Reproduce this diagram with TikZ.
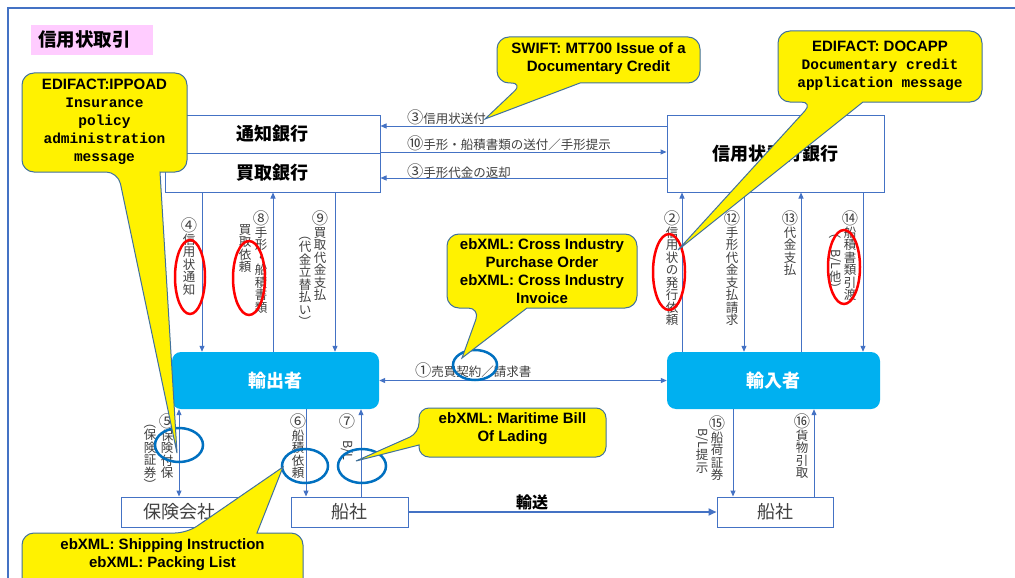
\documentclass[tikz,border=0pt]{standalone}
\usepackage{fontspec}
\usepackage{graphicx}
\usetikzlibrary{arrows.meta,calc}
\newfontfamily\jp{Noto Sans CJK JP}
\newfontfamily\lsans{Liberation Sans}
\newfontfamily\lmono{Liberation Mono}
\definecolor{lineblue}{HTML}{4472C4}
\definecolor{cyanfill}{HTML}{00B0F0}
\definecolor{labgray}{HTML}{404040}
\definecolor{ellblue}{HTML}{0070C0}
\definecolor{calloutline}{HTML}{41719C}
\definecolor{pinkbg}{HTML}{FFCCFF}
\newcommand{\rotL}[1]{\rotatebox{-90}{#1}}
\newcommand{\vlp}{\rotatebox[origin=c]{-90}{（}}
\newcommand{\vrp}{\rotatebox[origin=c]{-90}{）}}
\newcommand{\cn}[1]{\scalebox{1.3}{#1}}
\newcommand{\vfontsel}{\jp\fontsize{12.5}{12.5}\selectfont\lineskiplimit=-6pt\lineskip=1pt}
\begin{document}
\begin{tikzpicture}[x=1pt,y=-1pt,
  ln/.style={draw=lineblue,line width=1pt},
  arr/.style={ln,-{Triangle[length=6pt,width=5pt]}},
  darr/.style={ln,{Triangle[length=6pt,width=5pt]}-{Triangle[length=6pt,width=5pt]}},
  wbox/.style={draw=lineblue,line width=1pt,fill=white,inner sep=0pt},
  bankfont/.style={font=\jp\bfseries\fontsize{18}{20}\selectfont},
  actor/.style={fill=cyanfill,rounded corners=9pt,text=white,inner sep=0pt,minimum height=57pt,font=\jp\bfseries\fontsize{18}{20}\selectfont},
  plainbox/.style={wbox,font=\jp\fontsize{18}{20}\selectfont,text=labgray,minimum height=30pt},
  vlab/.style={font=\vfontsel,text=labgray,align=center,anchor=north,inner sep=0pt},
  hlab/.style={font=\jp\fontsize{12.5}{14}\selectfont,text=labgray,anchor=west,inner sep=0pt},
  redell/.style={draw=red,line width=2.5pt},
  blueell/.style={draw=ellblue,line width=2.5pt},
  callout/.style={fill=yellow,draw=calloutline,line width=1pt},
  csans/.style={font=\lsans\bfseries\fontsize{15}{18}\selectfont,align=center,inner sep=0pt},
  cmono/.style={font=\lmono\bfseries\fontsize{14.5}{18}\selectfont,align=center,inner sep=0pt}
]
\useasboundingbox (0,0) rectangle (1015,578);
\clip (0,0) rectangle (1015,578);
\fill[white] (0,0) rectangle (1015,578);
% frame
\draw[lineblue,line width=1.5pt] (8,600) -- (8,8) -- (1030,8);
% title
\fill[pinkbg] (31,25) rectangle (153,55);
\node[font=\jp\bfseries\fontsize{18.5}{20}\selectfont,anchor=west,inner sep=0pt] (title) at (38,40) {信用状取引};

% boxes
\node[wbox,bankfont,minimum width=215pt,minimum height=38pt] (tsuchi) at (272.5,134) {通知銀行};
\node[wbox,bankfont,minimum width=215pt,minimum height=39pt] (kaitori) at (272.5,172.5) {買取銀行};
\node[wbox,bankfont,minimum width=217pt,minimum height=77pt] (hakko) at (775.5,153.5) {信用状発行銀行};
\node[actor,minimum width=207pt] (yushutsu) at (275.5,380.5) {輸出者};
\node[actor,minimum width=213pt] (yunyu) at (773.5,380.5) {輸入者};
\node[plainbox,minimum width=116pt] (hoken) at (179,512) {保険会社};
\node[plainbox,minimum width=117pt] (sensha1) at (349.5,512) {船社};
\node[plainbox,minimum width=116pt] (sensha2) at (775,512) {船社};

% horizontal arrows
\draw[arr] (hakko.west |- 0,126) -- (tsuchi.east |- 0,126);
\draw[arr] (kaitori.east |- 0,152) -- (hakko.west |- 0,152);
\draw[arr] (hakko.west |- 0,178) -- (kaitori.east |- 0,178);
\draw[darr] (yushutsu.east) -- (yunyu.west);
\draw[ln,line width=2pt,-{Triangle[length=8pt,width=7pt]}] (sensha1.east) -- (sensha2.west);

% vertical arrows
\draw[arr] (202,0 |- kaitori.south) -- (202,0 |- yushutsu.north);
\draw[arr] (273,0 |- yushutsu.north) -- (273,0 |- kaitori.south);
\draw[arr] (335,0 |- kaitori.south) -- (335,0 |- yushutsu.north);
\draw[arr] (682,0 |- yunyu.north) -- (682,0 |- hakko.south);
\draw[arr] (744,0 |- hakko.south) -- (744,0 |- yunyu.north);
\draw[arr] (801,0 |- yunyu.north) -- (801,0 |- hakko.south);
\draw[arr] (863,0 |- hakko.south) -- (863,0 |- yunyu.north);
\draw[darr] (179,0 |- yushutsu.south) -- (179,0 |- hoken.north);
\draw[arr] (306,0 |- yushutsu.south) -- (306,0 |- sensha1.north);
\draw[arr] (361,0 |- sensha1.north) -- (361,0 |- yushutsu.south);
\draw[arr] (733,0 |- yunyu.south) -- (733,0 |- sensha2.north);
\draw[arr] (814,0 |- sensha2.north) -- (814,0 |- yunyu.south);

% horizontal labels
\node[hlab] (h3a) at (407,117) {\cn{③}信用状送付};
\node[hlab] (h10) at (407,143) {\cn{⑩}手形・船積書類の送付／手形提示};
\node[hlab] (h3b) at (407,171) {\cn{③}手形代金の返却};
\node[hlab] (h1) at (415,370) {\cn{①}売買契約／請求書};
\node[font=\jp\bfseries\fontsize{16}{18}\selectfont,inner sep=0pt] (yuso) at (532,502) {輸送};

% vertical labels
\node[vlab] (l4) at (189,218) {\cn{④}\\信\\用\\状\\通\\知};
\node[vlab] (l8) at (261,211) {\cn{⑧}\\手\\形\\・\\船\\積\\書\\類};
\node[vlab] (l8b) at (245,224) {買\\取\\依\\頼};
\node[vlab] (l9) at (320,211) {\cn{⑨}\\買\\取\\代\\金\\支\\払};
\node[vlab] (l9b) at (305,228) {\vlp\\代\\金\\立\\替\\払\\い\\\vrp};
\node[vlab] (l2) at (672,211) {\cn{②}\\信\\用\\状\\の\\発\\行\\依\\頼};
\node[vlab] (l12) at (732,211) {\cn{⑫}\\手\\形\\代\\金\\支\\払\\請\\求};
\node[vlab] (l13) at (790,211) {\cn{⑬}\\代\\金\\支\\払};
\node[vlab] (l14) at (850,211) {\cn{⑭}\\船\\積\\書\\類\\引\\渡};
\node[vlab] (l14b) at (835,226) {\vlp\\\rotL{B/L}\\他\\\vrp};
\node[vlab] (l5) at (167,414) {\cn{⑤}\\保\\険\\付\\保};
\node[vlab] (l5b) at (150,416) {\vlp\\保\\険\\証\\券\\\vrp};
\node[vlab] (l6) at (298,414) {\cn{⑥}\\船\\積\\依\\頼};
\node[vlab] (l7) at (347,414) {\cn{⑦}\\\rotL{B/L}};
\node[vlab] (l15) at (717,416) {\cn{⑮}\\船\\荷\\証\\券};
\node[vlab] (l15b) at (702,428) {\rotL{B/L}\\提\\示};
\node[vlab] (l16) at (802,414) {\cn{⑯}\\貨\\物\\引\\取};

% ellipses
\draw[redell] (190,277) ellipse [x radius=15pt,y radius=37pt];
\draw[redell] (249,278) ellipse [x radius=16pt,y radius=37pt];
\draw[redell] (669,272) ellipse [x radius=16pt,y radius=38pt];
\draw[redell] (844,267) ellipse [x radius=16pt,y radius=37pt];
\draw[blueell] (475,365) ellipse [x radius=22pt,y radius=15pt];
\draw[blueell] (179,445) ellipse [x radius=24pt,y radius=17pt];
\draw[blueell] (305,466) ellipse [x radius=23pt,y radius=17pt];
\draw[blueell] (362,466) ellipse [x radius=24pt,y radius=17pt];

% callouts
\draw[callout] (160,172) [rounded corners=12pt] -- (187,172) -- (187,73) -- (22,73) -- (22,172) -- (118,172) [sharp corners] -- (177,453) -- cycle;
\node[cmono] (c1) at (104.5,122) {{\lsans\bfseries\fontsize{15}{18}\selectfont EDIFACT:IPPOAD}\\Insurance\\policy\\administration\\message};

\draw[callout] (580,83) [rounded corners=12pt] -- (700,83) -- (700,37) -- (497,37) -- (497,83) -- (523,83) [sharp corners] -- (485,119) -- cycle;
\node[csans] (c2) at (598.5,59) {SWIFT: MT700 Issue of a\\Documentary Credit};

\draw[callout] (863,102) [rounded corners=12pt] -- (982,102) -- (982,31) -- (778,31) -- (778,102) -- (813,102) [sharp corners] -- (678,250) -- cycle;
\node[cmono] (c3) at (880,66) {{\lsans\bfseries\fontsize{15}{18}\selectfont EDIFACT: DOCAPP}\\Documentary credit\\application message};

\draw[callout] (527,308) [rounded corners=12pt] -- (637,308) -- (637,234) -- (447,234) -- (447,308) -- (480,308) [sharp corners] -- (462,358) -- cycle;
\node[csans] (c4) at (542,271) {ebXML: Cross Industry\\Purchase Order\\ebXML: Cross Industry\\Invoice};

\draw[callout] (419,445) [rounded corners=10pt] -- (419,457) -- (606,457) -- (606,408) -- (419,408) -- (419,433) [sharp corners] -- (356,461) -- cycle;
\node[csans] (c5) at (512.5,429) {ebXML: Maritime Bill\\Of Lading};

\draw[callout] (257,533) [rounded corners=12pt] -- (303,533) -- (303,600) -- (22,600) -- (22,533) -- (187,533) [sharp corners] -- (283,467) -- cycle;
\node[csans] (c6) at (162.5,555) {ebXML: Shipping Instruction\\ebXML: Packing List};
\end{tikzpicture}
\end{document}
